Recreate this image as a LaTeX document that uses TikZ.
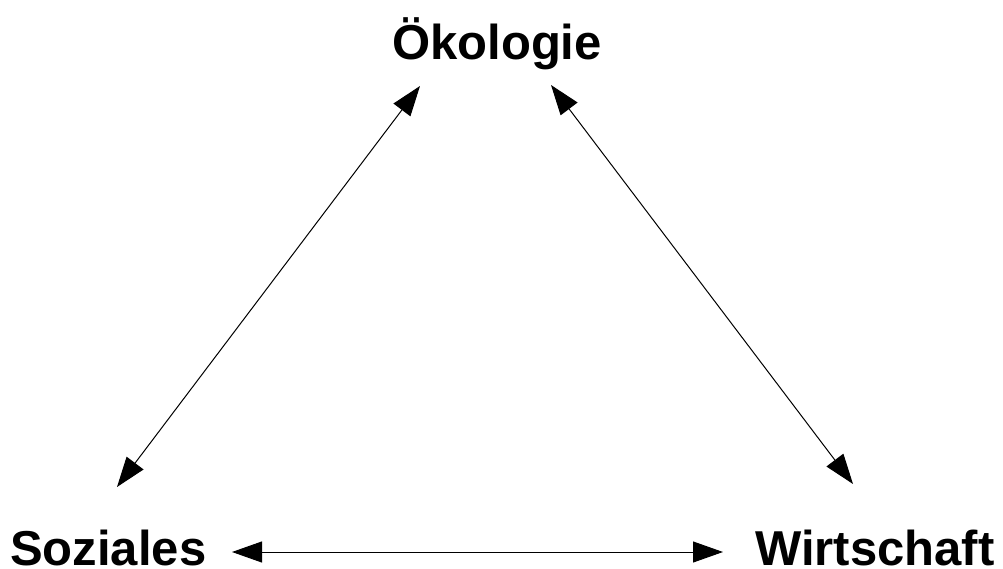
\documentclass[tikz,border=0pt]{standalone}
\usepackage{fontspec}
\setmainfont{Liberation Sans}
\usetikzlibrary{arrows.meta}
\begin{document}
\begin{tikzpicture}[x=1pt,y=-1pt,
  lbl/.style={inner sep=0pt,font=\fontsize{49}{49}\selectfont\bfseries},
  link/.style={line width=1pt,{Triangle[length=30pt,width=21pt]}-{Triangle[length=30pt,width=21pt]}}]
\useasboundingbox (0,0) rectangle (1003,569);
\node[lbl,anchor=base] (oek) at (497,60) {Ökologie};
\node[lbl,anchor=base west] (soz) at (10,565) {Soziales};
\node[lbl,anchor=base west] (wir) at (755,565) {Wirtschaft};
\coordinate (oekL) at (420,86);
\coordinate (oekR) at (551,85);
\coordinate (sozT) at (117,487);
\coordinate (sozR) at (232,552);
\coordinate (wirT) at (853,484);
\coordinate (wirL) at (723,552);
\draw[link] (sozT) -- (oekL);
\draw[link] (oekR) -- (wirT);
\draw[link] (sozR) -- (wirL);
\end{tikzpicture}
\end{document}
